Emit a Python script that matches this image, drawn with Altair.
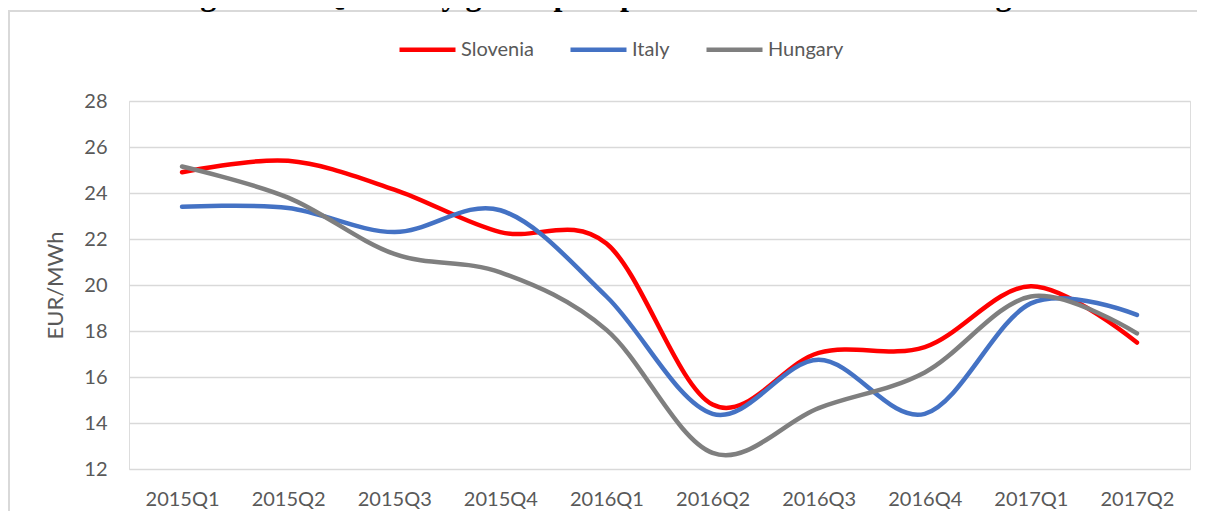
import altair as alt
import pandas as pd

quarters = ["2015Q1", "2015Q2", "2015Q3", "2015Q4", "2016Q1",
            "2016Q2", "2016Q3", "2016Q4", "2017Q1", "2017Q2"]
slovenia = [24.9, 25.4, 24.15, 22.3, 21.8, 14.8, 17.05, 17.3, 19.95, 17.5]
italy = [23.4, 23.35, 22.3, 23.25, 19.5, 14.4, 16.75, 14.4, 19.2, 18.7]
hungary = [25.15, 23.8, 21.35, 20.55, 18.05, 12.7, 14.65, 16.2, 19.5, 17.9]
series_names = ["Slovenia", "Italy", "Hungary"]
series_colors = ["#FF0000", "#4472C4", "#7F7F7F"]
y_ticks = [12, 14, 16, 18, 20, 22, 24, 26, 28]
title_text = "Figure 19: Quarterly gas import prices under LTCs in the region"

rows = []
for name, vals in zip(series_names, [slovenia, italy, hungary]):
    for q, v in zip(quarters, vals):
        rows.append({"Quarter": q, "Country": name, "Price": v})
df = pd.DataFrame(rows)

FONT = "Lato"
GREY_TXT = "#595959"

lines = alt.Chart(df).mark_line(
    interpolate="cardinal", tension=0, strokeWidth=4.5, strokeCap="round"
).encode(
    x=alt.X("Quarter:N", sort=quarters,
            scale=alt.Scale(type="point", padding=0.5),
            axis=alt.Axis(title=None, labelAngle=0, ticks=False, domain=False,
                          grid=False, labelPadding=20, labelFontSize=20,
                          labelFont=FONT, labelColor=GREY_TXT)),
    y=alt.Y("Price:Q", scale=alt.Scale(domain=[12, 28], nice=False, zero=False),
            axis=alt.Axis(title="EUR/MWh", values=y_ticks, ticks=False, domain=False,
                          grid=True, gridColor="#D9D9D9", gridWidth=1.5,
                          labelPadding=22, labelFontSize=20, labelFont=FONT,
                          labelColor=GREY_TXT, titleFont=FONT, titleFontSize=22,
                          titleFontWeight="normal", titleColor=GREY_TXT,
                          titlePadding=16)),
    color=alt.Color("Country:N", sort=series_names,
                    scale=alt.Scale(domain=series_names, range=series_colors),
                    legend=alt.Legend(title=None, orient="none", direction="horizontal",
                                      legendX=268, legendY=-82,
                                      symbolType="stroke", symbolSize=3136,
                                      symbolStrokeWidth=4.5, labelFont=FONT,
                                      labelFontSize=20, labelColor=GREY_TXT,
                                      labelOffset=3, columnPadding=27)),
)

one = pd.DataFrame({"t": [title_text]})
# frame of the chart box (left and top edges), drawn as thin filled bars
border_v = alt.Chart(one).mark_rect(color="#D9D9D9").encode(
    x=alt.value(-121), x2=alt.value(-119), y=alt.value(-91), y2=alt.value(412))
border_h = alt.Chart(one).mark_rect(color="#D9D9D9").encode(
    x=alt.value(-121), x2=alt.value(1068), y=alt.value(-91), y2=alt.value(-89))
title = alt.Chart(one).mark_text(
    font="Liberation Serif", fontWeight="bold", fontSize=32, color="#000000",
    align="center", baseline="alphabetic"
).encode(x=alt.value(484), y=alt.value(-96), text="t:N")

chart = alt.layer(border_v, border_h, title, lines).properties(
    width=1061, height=368,
    autosize=alt.AutoSizeParams(type="none"),
    padding={"left": 121, "top": 93, "right": 7, "bottom": 42},
).configure_view(stroke=None).configure(background="white")

chart.save("out.html", embed_options={"renderer": "svg", "actions": False})
